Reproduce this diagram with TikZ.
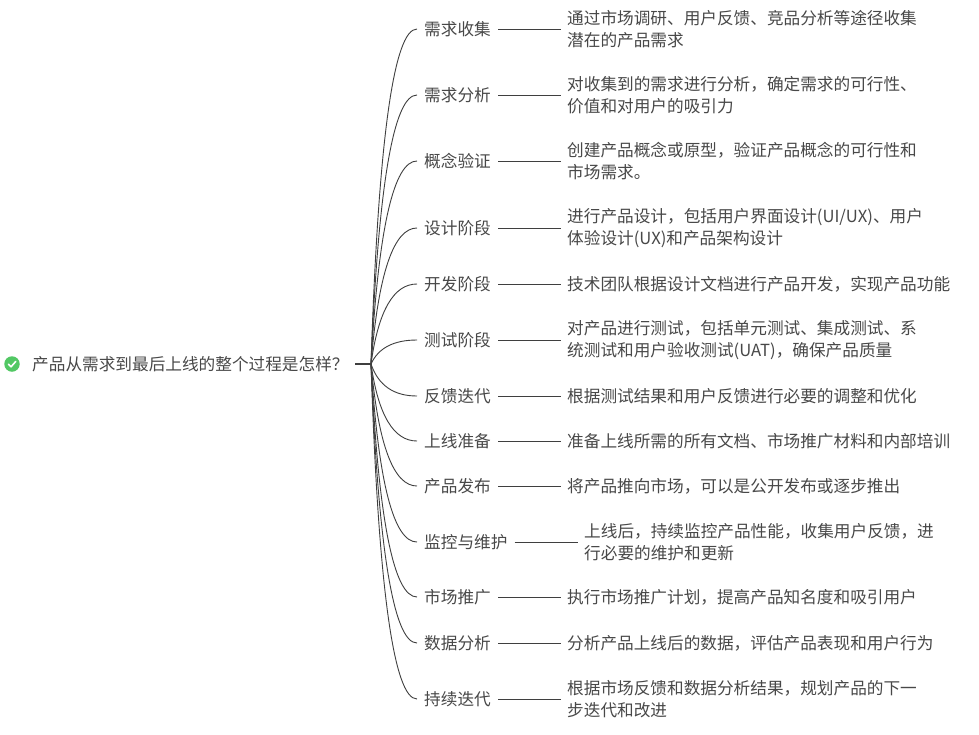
\documentclass[tikz,border=0pt]{standalone}
\usepackage{fontspec}
\setmainfont{Noto Sans CJK SC}
\usetikzlibrary{calc}
\definecolor{inkc}{HTML}{3F3F3F}
\definecolor{txtc}{HTML}{484848}
\definecolor{okgreen}{HTML}{52C864}
\tikzset{
  txt/.style={text=txtc,font=\fontsize{16.65}{22}\selectfont,align=left,inner ysep=0pt},
  rootnode/.style={txt,anchor=west,inner xsep=15pt},
  branchnode/.style={txt,anchor=west,inner xsep=7pt},
  leafnode/.style={txt,anchor=west,inner xsep=6pt},
  conn/.style={draw=inkc,line width=0.9pt},
}
\newcommand{\branchcurve}[1]{\draw[conn] (hub) .. controls ($(hub)!0.667!(#1.west -| cx)$) and ($(#1.west)!0.667!(#1.west -| cx)$) .. (#1.west);}
\newcommand{\topicrow}[6]{% id, y, branch x, branch text, leaf x, leaf text
  \node[branchnode] (b#1) at (#3,#2) {#4};
  \node[leafnode] (l#1) at (#5,#2) {#6};
  \branchcurve{b#1}
  \draw[conn] (b#1.east) -- (l#1.west);
}
\begin{document}
\begin{tikzpicture}[x=1pt,y=-1pt]
\useasboundingbox (0,0) rectangle (979,734);
\fill[white] (0,0) rectangle (979,734);
\coordinate (hub) at (371,364);
\coordinate (cx) at (382,0);
\node[circle,fill=okgreen,minimum size=15.5pt,inner sep=0pt] (icon) at (12,364) {};
\draw[white,line width=1.6pt,line cap=round,line join=round] ($(icon)+(-3.6,0.2)$) -- ($(icon)+(-1,2.8)$) -- ($(icon)+(3.8,-2.6)$);
\node[rootnode] (root) at (17,364) {产品从需求到最后上线的整个过程是怎样？};
\draw[draw=inkc,line width=1.8pt] (355,364) -- (hub);
\topicrow{1}{29}{417}{需求收集}{561}{通过市场调研、用户反馈、竞品分析等途径收集\\潜在的产品需求}
\topicrow{2}{95}{417}{需求分析}{561}{对收集到的需求进行分析，确定需求的可行性、\\价值和对用户的吸引力}
\topicrow{3}{161}{417}{概念验证}{561}{创建产品概念或原型，验证产品概念的可行性和\\市场需求。}
\topicrow{4}{228}{417}{设计阶段}{561}{进行产品设计，包括用户界面设计(UI/UX)、用户\\体验设计(UX)和产品架构设计}
\topicrow{5}{284}{417}{开发阶段}{561}{技术团队根据设计文档进行产品开发，实现产品功能}
\topicrow{6}{340}{417}{测试阶段}{561}{对产品进行测试，包括单元测试、集成测试、系\\统测试和用户验收测试(UAT)，确保产品质量}
\topicrow{7}{396}{417}{反馈迭代}{561}{根据测试结果和用户反馈进行必要的调整和优化}
\topicrow{8}{441}{417}{上线准备}{561}{准备上线所需的所有文档、市场推广材料和内部培训}
\topicrow{9}{486}{417}{产品发布}{561}{将产品推向市场，可以是公开发布或逐步推出}
\topicrow{10}{542}{417}{监控与维护}{578}{上线后，持续监控产品性能，收集用户反馈，进\\行必要的维护和更新}
\topicrow{11}{597}{417}{市场推广}{561}{执行市场推广计划，提高产品知名度和吸引用户}
\topicrow{12}{643}{417}{数据分析}{561}{分析产品上线后的数据，评估产品表现和用户行为}
\topicrow{13}{699}{417}{持续迭代}{561}{根据市场反馈和数据分析结果，规划产品的下一\\步迭代和改进}
\end{tikzpicture}
\end{document}
